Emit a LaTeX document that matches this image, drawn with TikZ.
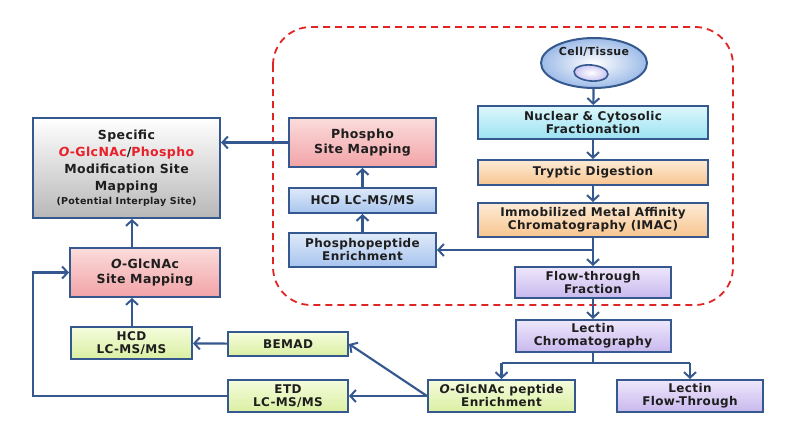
\documentclass[tikz,border=0pt]{standalone}
\usepackage{fontspec}
\setmainfont{DejaVu Sans}[LetterSpace=3]
\usetikzlibrary{arrows.meta,shapes.geometric}
\definecolor{bord}{HTML}{35598F}
\definecolor{txt}{HTML}{1E1E1E}
\definecolor{redd}{HTML}{E02424}
\definecolor{rtxt}{HTML}{E8202A}
\definecolor{HTMLFBDCDC}{HTML}{FBDCDC}\definecolor{HTMLF2A3A6}{HTML}{F2A3A6}
\definecolor{HTMLDDF7FC}{HTML}{DDF7FC}\definecolor{HTML9BE2F2}{HTML}{9BE2F2}
\definecolor{HTMLFDEBD6}{HTML}{FDEBD6}\definecolor{HTMLF8C58F}{HTML}{F8C58F}
\definecolor{HTMLDFEAF9}{HTML}{DFEAF9}\definecolor{HTMLA7C4EE}{HTML}{A7C4EE}
\definecolor{HTMLEEE7FB}{HTML}{EEE7FB}\definecolor{HTMLC8B8EE}{HTML}{C8B8EE}
\definecolor{HTMLF5FCDD}{HTML}{F5FCDD}\definecolor{HTMLDAEFA2}{HTML}{DAEFA2}
\definecolor{cellout}{HTML}{9DBBE8}
\definecolor{cellin}{HTML}{C9C3F2}
\tikzset{
  box/.style={draw=bord,line width=2pt,rectangle,align=center,inner sep=1pt,
    font=\fontsize{12}{13}\selectfont\bfseries,text=txt},
  gray/.style={top color=white,bottom color=black!28},
  pink/.style={top color=HTMLFBDCDC,bottom color=HTMLF2A3A6},
  cyanb/.style={top color=HTMLDDF7FC,bottom color=HTML9BE2F2},
  orng/.style={top color=HTMLFDEBD6,bottom color=HTMLF8C58F},
  blueb/.style={top color=HTMLDFEAF9,bottom color=HTMLA7C4EE},
  purp/.style={top color=HTMLEEE7FB,bottom color=HTMLC8B8EE},
  grn/.style={top color=HTMLF5FCDD,bottom color=HTMLDAEFA2},
  conn/.style={draw=bord,line width=2.2pt},
  arr/.style={conn,-{Straight Barb[length=5.5pt,width=12pt,line width=2pt]}},
}
\newcommand{\og}{\textcolor{rtxt}{\textit{O}-GlcNAc}}
\newcommand{\ogk}{\textit{O}-GlcNAc}
\begin{document}
\begin{tikzpicture}[x=1pt,y=-1pt]
\useasboundingbox (0,0) rectangle (792,428);
% dashed region
\draw[redd,line width=1.8pt,dash pattern=on 7pt off 5pt,rounded corners=38pt] (273,27) rectangle (733,305);
% nodes
\node[draw=bord,line width=2pt,ellipse,minimum width=106,minimum height=50,inner color=white,outer color=cellout] (cell) at (594,63) {};
\node[font=\fontsize{11}{12}\selectfont\bfseries,text=txt] (celltxt) at (594,52) {Cell/Tissue};
\node[draw=bord,line width=1.6pt,ellipse,minimum width=34,minimum height=16,inner color=white,outer color=cellin,rotate=-5] (cellin) at (591,73) {};
\node[box,cyanb,minimum width=230,minimum height=33] (nuc) at (593,122.5) {Nuclear \& Cytosolic\\Fractionation};
\node[box,orng,minimum width=230,minimum height=25] (tryp) at (593,172.5) {Tryptic Digestion};
\node[box,orng,minimum width=230,minimum height=34] (imac) at (593,220) {Immobilized Metal Affinity\\Chromatography (IMAC)};
\node[box,purp,minimum width=156,minimum height=31] (flow) at (593,282.5) {Flow-through\\Fraction};
\node[box,purp,minimum width=155,minimum height=32] (lect) at (593,336) {Lectin\\Chromatography};
\node[box,grn,minimum width=147,minimum height=32] (ogpep) at (501.5,396) {\ogk{} peptide\\Enrichment};
\node[box,purp,minimum width=146,minimum height=32] (lectft) at (690,396) {Lectin\\Flow-Through};
\node[box,pink,minimum width=147,minimum height=49,font=\fontsize{12.5}{15}\selectfont\bfseries] (psm) at (362.5,142.5) {Phospho\\Site Mapping};
\node[box,blueb,minimum width=147,minimum height=25] (hcdp) at (362.5,200.5) {HCD LC-MS/MS};
\node[box,blueb,minimum width=147,minimum height=34] (ppep) at (362.5,250) {Phosphopeptide\\Enrichment};
\node[box,gray,minimum width=187,minimum height=100,font=\fontsize{12.5}{17}\selectfont\bfseries] (spec) at (126.5,168)
  {Specific\\\og/\textcolor{rtxt}{Phospho}\\Modification Site\\Mapping\\[-3pt]{\fontsize{9.5}{10}\selectfont(Potential Interplay Site)}};
\node[box,pink,minimum width=150,minimum height=49,font=\fontsize{12.5}{15}\selectfont\bfseries] (ogsm) at (145,272.5) {\ogk\\Site Mapping};
\node[box,grn,minimum width=121,minimum height=32] (hcdg) at (131.5,343) {HCD\\LC-MS/MS};
\node[box,grn,minimum width=120,minimum height=24] (bemad) at (288,344) {BEMAD};
\node[box,grn,minimum width=120,minimum height=32] (etd) at (288,396) {ETD\\LC-MS/MS};
% coordinates
\coordinate (br) at (593,250);
\coordinate (spl) at (593,363);
\coordinate (splL) at (501.5,363);
\coordinate (splR) at (690,363);
\coordinate (lpA) at (33,396);
\coordinate (lpB) at (33,272.5);
% connectors
\draw[arr] (cell) -- (nuc);
\draw[arr] (nuc) -- (tryp);
\draw[arr] (tryp) -- (imac);
\draw[arr] (imac) -- (flow);
\draw[arr] (br) -- (ppep.east);
\draw[arr] (flow) -- (lect);
\draw[conn] (lect) -- (spl);
\draw[conn] (splL) -- (splR);
\draw[arr] (splL) -- (ogpep);
\draw[arr] (splR) -- (lectft);
\draw[arr] (ppep) -- (hcdp);
\draw[arr] (hcdp) -- (psm);
\draw[arr] (psm.west) -- (spec.east |- psm.west);
\draw[arr] (ogsm.north -| 132,0) -- (spec.south -| 132,0);
\draw[arr] (hcdg.north -| 132,0) -- (ogsm.south -| 132,0);
\draw[arr] (bemad) -- (hcdg);
\draw[arr] (ogpep.west) -- (bemad.east);
\draw[arr] (ogpep.west) -- (etd.east);
\draw[arr] (etd.west) -- (lpA) -- (lpB) -- (ogsm.west);
\end{tikzpicture}
\end{document}
